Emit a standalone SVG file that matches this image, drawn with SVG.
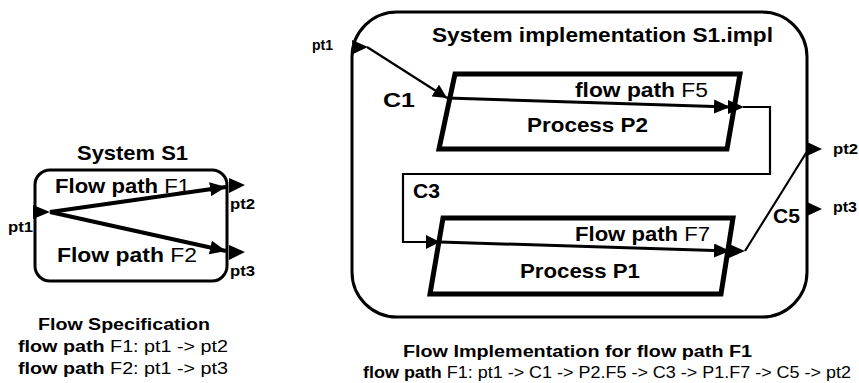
<svg xmlns="http://www.w3.org/2000/svg" width="859" height="383" viewBox="0 0 859 383">
<defs>
<style>
text{font-family:"Liberation Sans",Arial,sans-serif;fill:#000}
.b{font-weight:bold}
.n{font-weight:normal}
.t21{font-size:21px;font-weight:bold}
.t20{font-size:20px;font-weight:bold}
.port{font-size:14px;font-weight:bold}
.cap{font-size:16px}
.box{fill:#fff;stroke:#000;stroke-width:3}
.proc{fill:#fff;stroke:#000;stroke-width:5;stroke-linejoin:miter}
.tri{fill:#000;stroke:none}
.flow{fill:none;stroke:#000;stroke-width:4}
.flow2{fill:none;stroke:#000;stroke-width:3}
.conn{fill:none;stroke:#000;stroke-width:2.2}
</style>
<marker id="ah" viewBox="0 0 16 14" refX="16" refY="7" markerWidth="16" markerHeight="14" orient="auto" markerUnits="userSpaceOnUse"><path d="M0,0 L16,7 L0,14 z"/></marker>
<marker id="ah2" viewBox="0 0 14 14" refX="14" refY="7" markerWidth="14" markerHeight="14" orient="auto" markerUnits="userSpaceOnUse"><path d="M0,0 L14,7 L0,14 z"/></marker>
</defs>

<!-- Left: System S1 -->
<g id="system-s1">
<text class="t21" x="77" y="160" textLength="111" lengthAdjust="spacingAndGlyphs">System S1</text>
<rect class="box" x="35" y="170" width="192" height="111" rx="15"/>
<text class="t21" x="55" y="193" textLength="135" lengthAdjust="spacingAndGlyphs">Flow path <tspan class="n">F1</tspan></text>
<text class="t21" x="57" y="262" textLength="140" lengthAdjust="spacingAndGlyphs">Flow path <tspan class="n">F2</tspan></text>
</g>
<g id="s1-pt1">
<polygon class="tri" points="33,205 33,219 50,212"/>
<text class="port" x="8" y="232" textLength="25" lengthAdjust="spacingAndGlyphs">pt1</text>
</g>
<g id="s1-pt2">
<polygon class="tri" points="229,178 229,193 245,185"/>
<text class="port" x="230" y="209" textLength="25" lengthAdjust="spacingAndGlyphs">pt2</text>
</g>
<g id="s1-pt3">
<polygon class="tri" points="229,245 229,260 245,252"/>
<text class="port" x="230" y="276" textLength="25" lengthAdjust="spacingAndGlyphs">pt3</text>
</g>

<!-- Right: System implementation -->
<g id="system-impl">
<rect class="box" x="352" y="12" width="455" height="305" rx="45" stroke-width="2.5"/>
<text class="t21" x="432" y="42" textLength="341" lengthAdjust="spacingAndGlyphs">System implementation S1.impl</text>
</g>
<g id="impl-pt1">
<polygon class="tri" points="352,40 353,54 368,47"/>
<text class="port" x="312" y="50" textLength="21" lengthAdjust="spacingAndGlyphs">pt1</text>
</g>
<g id="impl-pt2">
<polygon class="tri" points="807,142 807,156 822,149"/>
<text class="port" x="833" y="154" textLength="25" lengthAdjust="spacingAndGlyphs">pt2</text>
</g>
<g id="impl-pt3">
<polygon class="tri" points="807,202 807,216 822,209"/>
<text class="port" x="833" y="212" textLength="24" lengthAdjust="spacingAndGlyphs">pt3</text>
</g>

<g id="process-p2">
<polygon class="proc" points="455,74 740,74 727,149 439,149"/>
<text class="t20" x="575" y="97" textLength="133" lengthAdjust="spacingAndGlyphs">flow path <tspan class="n">F5</tspan></text>
<text class="t21" x="527" y="132" textLength="121" lengthAdjust="spacingAndGlyphs">Process P2</text>
<polygon class="tri" points="728,100 728,114 744,107"/>
</g>

<g id="process-p1">
<polygon class="proc" points="443,218 733,218 721,294 430,294"/>
<text class="t20" x="575" y="241" textLength="135" lengthAdjust="spacingAndGlyphs">Flow path <tspan class="n">F7</tspan></text>
<text class="t21" x="520" y="278" textLength="120" lengthAdjust="spacingAndGlyphs">Process P1</text>
<polygon class="tri" points="729,244 729,258 745,251"/>
</g>

<!-- Connectors and flows -->
<g id="connectors">
<line class="flow" x1="50" y1="212" x2="226" y2="187" marker-end="url(#ah)"/>
<line class="flow" x1="50" y1="212" x2="226" y2="251" marker-end="url(#ah)"/>
<line class="conn" x1="367" y1="47" x2="447" y2="98" stroke-width="3" marker-end="url(#ah2)"/>
<line class="flow2" x1="447" y1="98" x2="730" y2="107" marker-end="url(#ah)"/>
<polyline class="conn" points="743,107 770,107 770,174 403,174 403,242 440,242" marker-end="url(#ah2)"/>
<line class="flow2" x1="440" y1="242" x2="730" y2="251" stroke-width="3.5" marker-end="url(#ah)"/>
<line class="conn" x1="745" y1="251" x2="808" y2="150" stroke-width="2.5"/>
<text class="t21" x="383" y="107" textLength="32" lengthAdjust="spacingAndGlyphs">C1</text>
<text class="t21" x="413" y="198" textLength="27" lengthAdjust="spacingAndGlyphs">C3</text>
<text class="t21" x="773" y="223" textLength="27" lengthAdjust="spacingAndGlyphs">C5</text>
</g>

<!-- Captions -->
<g id="caption-spec">
<text class="cap b" x="38" y="330" textLength="172" lengthAdjust="spacingAndGlyphs">Flow Specification</text>
<text class="cap" x="18" y="352" textLength="210" lengthAdjust="spacingAndGlyphs"><tspan class="b">flow path</tspan> F1: pt1 -&gt; pt2</text>
<text class="cap" x="18" y="374" textLength="210" lengthAdjust="spacingAndGlyphs"><tspan class="b">flow path</tspan> F2: pt1 -&gt; pt3</text>
</g>
<g id="caption-impl">
<text class="cap b" x="403" y="357" textLength="349" lengthAdjust="spacingAndGlyphs">Flow Implementation for flow path F1</text>
<text class="cap" x="363" y="378" textLength="488" lengthAdjust="spacingAndGlyphs"><tspan class="b">flow path</tspan> F1: pt1 -&gt; C1 -&gt; P2.F5 -&gt; C3 -&gt; P1.F7 -&gt; C5 -&gt; pt2</text>
</g>
</svg>
